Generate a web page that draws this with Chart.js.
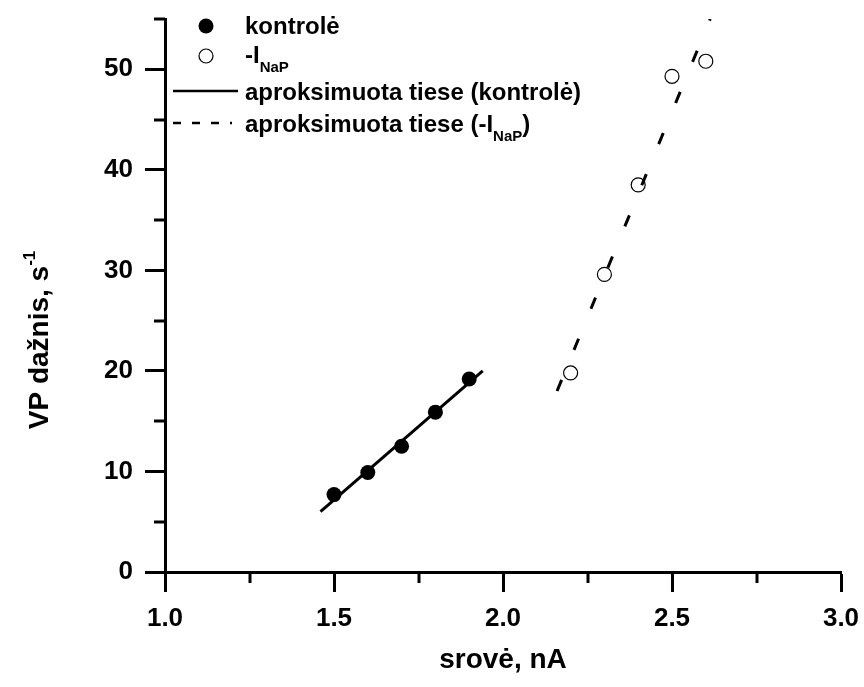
<!DOCTYPE html>
<html>
<head>
<meta charset="utf-8">
<script src="https://cdn.jsdelivr.net/npm/chart.js@4.4.0/dist/chart.umd.min.js"></script>
<style>
  html, body { margin: 0; padding: 0; background: #fff; }
  canvas { display: block; }
</style>
</head>
<body>
<canvas id="chart" width="864" height="687"></canvas>
<script>
"use strict";

// srovė (nA) -> VP dažnis (s^-1)
const controlCurrent = [1.5, 1.6, 1.7, 1.8, 1.9];
const controlRate = [7.7, 9.9, 12.5, 15.9, 19.2];
const blockedCurrent = [2.2, 2.3, 2.4, 2.5, 2.6];
const blockedRate = [19.8, 29.6, 38.5, 49.3, 50.8];

// aproksimuotų tiesių galai
const controlFitCurrent = [1.46, 1.94];
const controlFitRate = [6.0, 20.0];
const blockedFitCurrent = [2.16, 2.613];
const blockedFitRate = [18.0, 55.0];

const xTicks = [1.0, 1.5, 2.0, 2.5, 3.0];
const xMinorTicks = [1.25, 1.75, 2.25, 2.75];
const yTicks = [0, 10, 20, 30, 40, 50];
const yMinorTicks = [5, 15, 25, 35, 45, 55];

const FONT = '"Liberation Sans", Arial, sans-serif';
const BLACK = "#000000";

const toPoints = (xs, ys) => xs.map((x, i) => ({ x, y: ys[i] }));

/** text runs, some of them as subscript / superscript */
const drawRuns = (ctx, runs, x, y, size) => {
  runs.forEach(({ text, shift = 0, scale = 1 }) => {
    ctx.font = `bold ${Math.round(size * scale)}px ${FONT}`;
    ctx.fillText(text, x, y + shift);
    x += ctx.measureText(text).width;
  });
  return x;
};

const runsWidth = (ctx, runs, size) =>
  runs.reduce((w, { text, scale = 1 }) => {
    ctx.font = `bold ${Math.round(size * scale)}px ${FONT}`;
    return w + ctx.measureText(text).width;
  }, 0);

// scale label overflow should not shrink the plot area
const noScalePadding = (scale) => {
  scale.paddingTop = 0;
  scale.paddingBottom = 0;
  scale.paddingLeft = 0;
  scale.paddingRight = 0;
};

const minorTicks = {
  id: "minorTicks",
  afterDraw: (chart) => {
    const { ctx } = chart;
    const xs = chart.scales.x;
    const ys = chart.scales.y;
    ctx.save();
    ctx.strokeStyle = BLACK;
    ctx.lineWidth = 3;
    ctx.beginPath();
    xMinorTicks.forEach((v) => {
      const px = Math.round(xs.getPixelForValue(v));
      ctx.moveTo(px, xs.top);
      ctx.lineTo(px, xs.top + 11);
    });
    yMinorTicks.forEach((v) => {
      const py = Math.round(ys.getPixelForValue(v));
      ctx.moveTo(ys.right - 11, py);
      ctx.lineTo(ys.right, py);
    });
    ctx.stroke();
    ctx.restore();
  },
};

const axisTitles = {
  id: "axisTitles",
  afterDraw: (chart) => {
    const { ctx } = chart;
    const xs = chart.scales.x;
    ctx.save();
    ctx.fillStyle = BLACK;
    ctx.textBaseline = "alphabetic";

    ctx.textAlign = "center";
    ctx.font = `bold 28px ${FONT}`;
    ctx.fillText("srovė, nA", (xs.left + xs.right) / 2, 668);

    ctx.textAlign = "left";
    const yRuns = [
      { text: "VP dažnis, s" },
      { text: "-1", shift: -13, scale: 0.6 },
    ];
    const w = runsWidth(ctx, yRuns, 28);
    ctx.translate(48, 340);
    ctx.rotate(-Math.PI / 2);
    drawRuns(ctx, yRuns, -w / 2, 0, 28);
    ctx.restore();
  },
};

const legendBox = {
  id: "legendBox",
  afterDraw: (chart) => {
    const { ctx } = chart;
    const size = 24;
    const textX = 245;
    ctx.save();
    ctx.fillStyle = BLACK;
    ctx.strokeStyle = BLACK;
    ctx.textAlign = "left";
    ctx.textBaseline = "alphabetic";

    // kontrolė
    ctx.beginPath();
    ctx.arc(206, 26, 7.5, 0, Math.PI * 2);
    ctx.fill();
    drawRuns(ctx, [{ text: "kontrolė" }], textX, 34, size);

    // -I NaP
    ctx.beginPath();
    ctx.lineWidth = 1.2;
    ctx.arc(206, 56, 7, 0, Math.PI * 2);
    ctx.stroke();
    drawRuns(
      ctx,
      [{ text: "-I" }, { text: "NaP", shift: 9, scale: 0.62 }],
      textX,
      63,
      size
    );

    // aproksimuota tiese (kontrolė)
    ctx.lineWidth = 2.5;
    ctx.beginPath();
    ctx.moveTo(173, 91);
    ctx.lineTo(238, 91);
    ctx.stroke();
    drawRuns(ctx, [{ text: "aproksimuota tiese (kontrolė)" }], textX, 100, size);

    // aproksimuota tiese (-I NaP)
    ctx.setLineDash([8, 11]);
    ctx.beginPath();
    ctx.moveTo(173, 123);
    ctx.lineTo(232, 123);
    ctx.stroke();
    ctx.setLineDash([]);
    drawRuns(
      ctx,
      [
        { text: "aproksimuota tiese (-I" },
        { text: "NaP", shift: 9, scale: 0.62 },
        { text: ")" },
      ],
      textX,
      132,
      size
    );
    ctx.restore();
  },
};

const main = () => {
  const canvas = document.getElementById("chart");
  if (!(canvas instanceof HTMLCanvasElement)) throw new Error();

  new Chart(canvas, {
    type: "scatter",
    data: {
      datasets: [
        {
          label: "aproksimuota tiese (kontrolė)",
          data: toPoints(controlFitCurrent, controlFitRate),
          showLine: true,
          borderColor: BLACK,
          borderWidth: 3,
          pointRadius: 0,
          order: 0,
        },
        {
          label: "aproksimuota tiese (-INaP)",
          data: toPoints(blockedFitCurrent, blockedFitRate),
          showLine: true,
          borderColor: BLACK,
          borderWidth: 3,
          borderDash: [12, 32.5],
          pointRadius: 0,
          order: 0,
        },
        {
          label: "kontrolė",
          data: toPoints(controlCurrent, controlRate),
          showLine: false,
          pointRadius: 7.5,
          pointBackgroundColor: BLACK,
          pointBorderColor: BLACK,
          pointBorderWidth: 0,
          order: 1,
        },
        {
          label: "-INaP",
          data: toPoints(blockedCurrent, blockedRate),
          showLine: false,
          pointRadius: 7,
          pointBackgroundColor: "rgba(0,0,0,0)",
          pointBorderColor: BLACK,
          pointBorderWidth: 1.2,
          order: 1,
        },
      ],
    },
    options: {
      responsive: false,
      animation: false,
      events: [],
      layout: { padding: { left: 0, top: 19, right: 23, bottom: 0 } },
      plugins: {
        legend: { display: false },
        tooltip: { enabled: false },
      },
      scales: {
        x: {
          type: "linear",
          min: 1.0,
          max: 3.0,
          afterBuildTicks: (scale) => {
            scale.ticks = xTicks.map((value) => ({ value }));
          },
          afterFit: (scale) => {
            scale.height = 115;
            noScalePadding(scale);
          },
          border: { display: true, width: 3, color: BLACK },
          grid: {
            drawOnChartArea: false,
            drawTicks: true,
            tickLength: 20,
            tickWidth: 3,
            tickColor: BLACK,
          },
          ticks: {
            color: BLACK,
            padding: 11,
            maxRotation: 0,
            font: { family: FONT, size: 26, weight: "bold" },
            callback: (value) => Number(value).toFixed(1),
          },
        },
        y: {
          type: "linear",
          min: 0,
          max: 55,
          afterBuildTicks: (scale) => {
            scale.ticks = yTicks.map((value) => ({ value }));
          },
          afterFit: (scale) => {
            scale.width = 165;
            noScalePadding(scale);
          },
          border: { display: true, width: 3, color: BLACK },
          grid: {
            drawOnChartArea: false,
            drawTicks: true,
            tickLength: 20,
            tickWidth: 3,
            tickColor: BLACK,
          },
          ticks: {
            color: BLACK,
            padding: 12,
            font: { family: FONT, size: 26, weight: "bold" },
            callback: (value) => String(value),
          },
        },
      },
    },
    plugins: [minorTicks, axisTitles, legendBox],
  });
};

main();
</script>
</body>
</html>
